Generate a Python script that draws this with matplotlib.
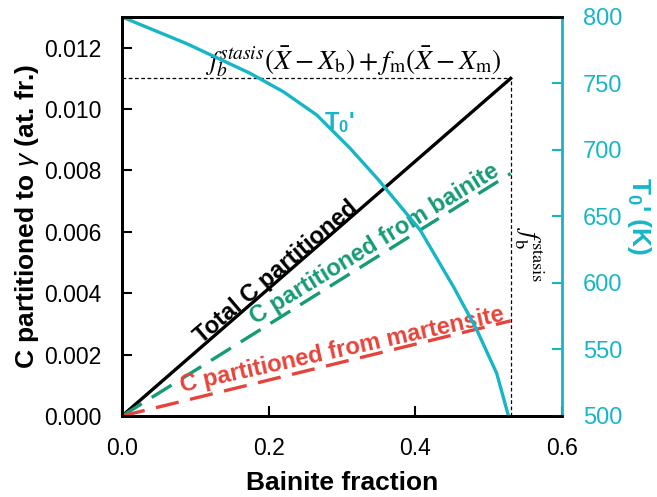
import numpy as np
import matplotlib
matplotlib.use('Agg')
import matplotlib.pyplot as plt

plt.rcParams['font.family'] = ['Liberation Sans', 'DejaVu Sans']
plt.rcParams['mathtext.fontset'] = 'custom'
plt.rcParams['mathtext.rm'] = 'Liberation Sans'
plt.rcParams['mathtext.it'] = 'Liberation Sans:italic'
plt.rcParams['mathtext.bf'] = 'Liberation Sans:bold'

# straight lines: bainite fraction -> carbon partitioned
f_stasis = 0.53
x_line = [0.0, f_stasis]
c_total = [0.0, 0.011]
c_bainite = [0.0, 0.0079]
c_martensite = [0.0, 0.0031]

# T0' curve
t0_x = [0.0, 0.088, 0.1746, 0.22, 0.2656, 0.311, 0.35, 0.4066, 0.452, 0.4839, 0.511, 0.527]
t0_T = [800, 780, 757.7, 743.8, 726.3, 701.3, 677.4, 639.8, 597.2, 564.7, 532, 500]

cyan = '#17b6c6'
green = '#169b75'
red = '#e5443a'

fig = plt.figure(figsize=(6.57, 4.97), dpi=100)
ax = fig.add_axes([0.1857, 0.163, 0.6697, 0.8028])
ax2 = ax.twinx()

ax.plot(x_line, c_total, color='black', lw=2.4, zorder=3)
ax.plot(x_line, c_bainite, color=green, lw=2.4, dashes=(7, 3.5), zorder=3)
ax.plot(x_line, c_martensite, color=red, lw=2.4, dashes=(7, 3.5), zorder=3)

# guide lines
ax.plot([0, f_stasis], [0.011, 0.011], color='black', lw=0.9, ls=(0, (3, 2)))
ax.plot([f_stasis, f_stasis], [0, 0.011], color='black', lw=0.9, ls=(0, (3, 2)))

ax2.plot(t0_x, t0_T, color=cyan, lw=2.4)

ax.set_xlim(0, 0.6)
ax.set_ylim(0, 0.013)
ax2.set_ylim(500, 800)
ax.set_xticks([0, 0.2, 0.4, 0.6])
ax.set_xticklabels(['0.0', '0.2', '0.4', '0.6'])
yt = np.arange(0, 0.0121, 0.002)
ax.set_yticks(yt)
ax.set_yticklabels(['%.3f' % v for v in yt])
ax2.set_yticks(range(500, 801, 50))

ax.tick_params(direction='in', labelsize=16.5, width=1.5, length=7, pad=15)
ax2.tick_params(direction='in', labelsize=17, width=1.5, length=7, colors=cyan, pad=15)
for s in ['left', 'bottom', 'top']:
    ax.spines[s].set_linewidth(2)
    ax2.spines[s].set_linewidth(2)
ax2.spines['right'].set_color(cyan)
ax2.spines['right'].set_linewidth(2)

ax.set_xlabel('Bainite fraction', fontsize=19, fontweight='bold', labelpad=8)
ax.set_ylabel(r'C partitioned to $\gamma$ (at. fr.)', fontsize=19, fontweight='bold', labelpad=2)
ax2.set_ylabel("T$_\\mathbf{0}$' (K)", fontsize=19, fontweight='bold', color=cyan,
               rotation=270, labelpad=22)

ax.text(0.21, 0.0047, 'Total C partitioned', fontsize=17, fontweight='bold',
        rotation=40.5, ha='center', va='center')
ax.text(0.345, 0.0056, 'C partitioned from bainite', fontsize=17, fontweight='bold',
        color=green, rotation=31.5, ha='center', va='center')
ax.text(0.30, 0.00215, 'C partitioned from martensite', fontsize=17, fontweight='bold',
        color=red, rotation=12.5, ha='center', va='center')
ax.text(0.315, 0.01155,
        r'$f_b^{stasis}(\bar{X}-X_\mathrm{b})+f_\mathrm{m}(\bar{X}-X_\mathrm{m})$',
        fontsize=20, ha='center', va='center', math_fontfamily='stix')
ax.text(0.554, 0.00524, r'$f_\mathrm{b}^{\mathrm{stasis}}$', fontsize=19,
        rotation=-90, ha='center', va='center', math_fontfamily='stix')
ax2.text(0.297, 721, "T$_\\mathbf{0}$'", fontsize=17, fontweight='bold', color=cyan,
         ha='center', va='center')

fig.savefig('out.png', dpi=100)
